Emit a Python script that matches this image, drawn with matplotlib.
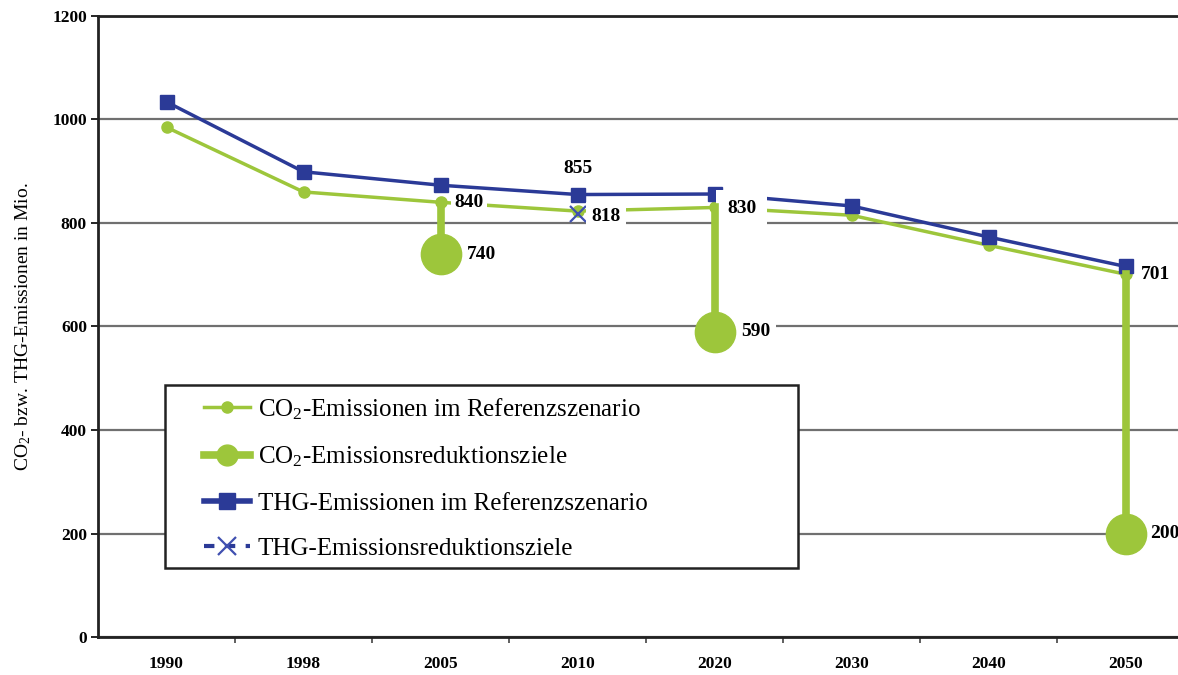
import matplotlib.pyplot as plt
from matplotlib.patches import Rectangle

plt.rcParams['font.family'] = ['Liberation Serif', 'DejaVu Serif']
plt.rcParams['mathtext.fontset'] = 'custom'
plt.rcParams['mathtext.rm'] = 'Liberation Serif'
plt.rcParams['mathtext.it'] = 'Liberation Serif:italic'

# data
years = ['1990', '1998', '2005', '2010', '2020', '2030', '2040', '2050']
co2_ref = [985, 860, 840, 823, 830, 815, 757, 701]
thg_ref = [1034, 899, 873, 855, 856, 833, 773, 716]
co2_target_years = ['2005', '2020', '2050']
co2_target = [740, 590, 200]
thg_target_years = ['2010']
thg_target = [818]

green = '#9DC63B'
blue = '#2B3A97'

fig = plt.figure(figsize=(11.78, 6.75), dpi=100)
ax = fig.add_axes([98 / 1178, 38 / 675, 1096 / 1178, 621 / 675])

x = list(range(len(years)))

# reference lines
ax.plot(x, co2_ref, color=green, lw=2.5, marker='o', ms=8, zorder=3)
ax.plot(x, thg_ref, color=blue, lw=2.5, marker='s', ms=10, zorder=4)

# CO2 reduction targets: vertical drop from reference value
for yr, val in zip(co2_target_years, co2_target):
    xi = years.index(yr)
    ax.plot([xi, xi], [co2_ref[xi], val], color=green, lw=5.5, zorder=7)
    ax.plot(xi, val, marker='o', ms=29, color=green, zorder=7)

# THG reduction target
thg_x = [years.index(y) for y in thg_target_years]
ax.plot(thg_x, thg_target, ls='none', marker='x', ms=12, mew=1.6,
        color='#4050B0', zorder=4)

# data labels
lbl = dict(textcoords='offset points', fontsize=14, fontweight='bold',
           va='center', ha='left', zorder=6, annotation_clip=False,
           bbox=dict(boxstyle='square,pad=0.3', fc='white', ec='none'))
ax.annotate('840', (2, co2_ref[2]), xytext=(10, 0),
            **{**lbl, 'bbox': dict(boxstyle='square,pad=0.15', fc='white', ec='none')})
ax.annotate('818', (3, thg_target[0]), xytext=(10, -2), **lbl)
ax.annotate('830', (4, co2_ref[4]), xytext=(9, -1),
            **{**lbl, 'bbox': dict(boxstyle='square,pad=0.55', fc='white', ec='none')})
ax.annotate('740', (2, co2_target[0]), xytext=(19, 0), **lbl)
ax.annotate('590', (4, co2_target[1]), xytext=(19, 0), **lbl)
ax.annotate('701', (7, co2_ref[7]), xytext=(11, 0), **lbl)
ax.annotate('200', (7, co2_target[2]), xytext=(18, 0), **lbl)
ax.annotate('855', (3, thg_ref[3]), xytext=(0, 19), textcoords='offset points',
            fontsize=14, fontweight='bold', ha='center', va='center')

# axes
ax.set_xlim(-0.5, 7.5)
ax.set_ylim(0, 1200)
ax.set_xticks(x)
ax.set_xticklabels(years)
ax.set_xticks([i - 0.5 for i in range(1, 8)], minor=True)
ax.tick_params(axis='x', which='major', length=0, pad=14, labelsize=12.5)
ax.tick_params(axis='x', which='minor', length=4, width=1.2, color='#444')
ax.set_yticks(range(0, 1201, 200))
ax.tick_params(axis='y', length=5, width=1.2, labelsize=12.5, pad=3)
for t in ax.get_xticklabels() + ax.get_yticklabels():
    t.set_fontweight('bold')

ax.yaxis.grid(True, color='#707070', lw=1.6)
ax.set_axisbelow(True)
for s in ['left', 'bottom', 'top']:
    ax.spines[s].set_linewidth(2)
    ax.spines[s].set_color('#222')
ax.spines['right'].set_visible(False)

ax.set_ylabel('CO$_2$- bzw. THG-Emissionen in Mio.', fontsize=14, labelpad=14)

# legend (frame drawn separately)
fig.patches.append(Rectangle((165 / 1178, 1 - 568 / 675), 633 / 1178, 183 / 675,
                             transform=fig.transFigure, fc='white', ec='#222',
                             lw=1.8, zorder=9))
h_co2 = plt.Line2D([], [], color=green, lw=2.5, marker='o', ms=8)
h_co2z = plt.Line2D([], [], color=green, lw=5.5, marker='o', ms=15)
h_thg = plt.Line2D([], [], color=blue, lw=4, marker='s', ms=12)
h_thgz = plt.Line2D([], [], color=blue, lw=3, ls=(0, (2.5, 2.5)), marker='x',
                    ms=13, mew=1.6, mec='#4050B0')
leg = fig.legend([h_co2, h_co2z, h_thg, h_thgz],
                 ['CO$_2$-Emissionen im Referenzszenario',
                  'CO$_2$-Emissionsreduktionsziele',
                  'THG-Emissionen im Referenzszenario',
                  'THG-Emissionsreduktionsziele'],
                 loc='upper left', bbox_to_anchor=(204 / 1178, 1 - 396 / 675),
                 borderaxespad=0, borderpad=0, frameon=False,
                 fontsize=18, handlelength=1.85, handletextpad=0.3, labelspacing=0.92)
leg.set_zorder(10)

fig.savefig('out.png', dpi=100)
